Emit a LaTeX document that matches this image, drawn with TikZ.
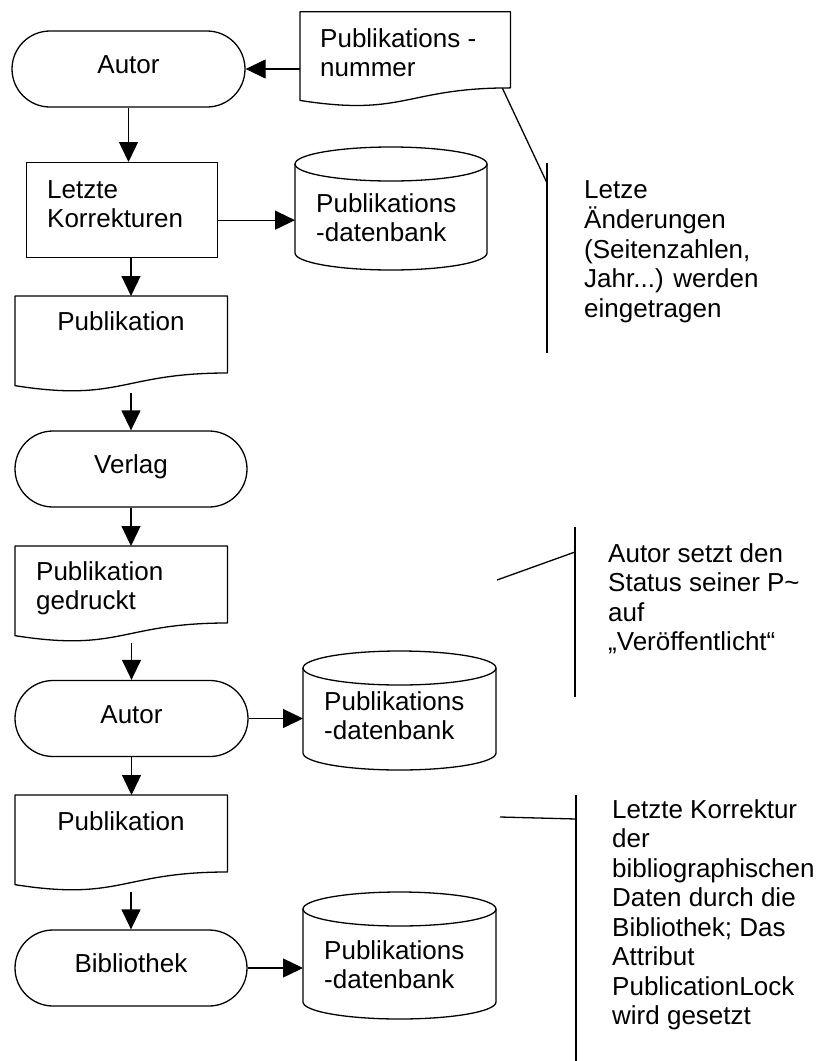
\documentclass[tikz,border=0pt]{standalone}
\usepackage{fontspec}
\setmainfont{Liberation Sans}
\usetikzlibrary{arrows.meta,shapes.misc,calc}

% left-aligned block of lines whose anchor is the first baseline
\newcommand\lns[1]{\begin{tabular}[t]{@{}l@{}}#1\end{tabular}}

\tikzset{
  every node/.style={font=\fontsize{26}{29.5}\selectfont},
  line/.style={line width=1.3pt, line join=round},
  flow/.style={line, -{Triangle[length=20pt,width=19pt]}},
  term/.style={rounded rectangle, draw, line width=1.3pt, minimum width=233pt,
    minimum height=76pt, inner sep=0pt, text height=20pt, text depth=11pt},
  proc/.style={rectangle, draw, line width=1.3pt, inner sep=0pt},
  body/.style={rectangle, inner sep=0pt, anchor=north west},
  txt/.style={inner sep=0pt, anchor=base west},
  ctxt/.style={inner sep=0pt, anchor=base},
}

% document symbol: name, left, top, width, height (y measured downwards)
\newcommand\docshape[5]{%
  \node[body, minimum width=#4pt, minimum height=#5pt] (#1) at (#2,-#3) {};
  \draw[line] (#1.north west) -- (#1.north east) -- ++(0,-0.802*#5)
    .. controls ($(#1.north)+(0,-0.802*#5)$) and ($(#1.north)+(0,-1.1075*#5)$)
    .. ($(#1.north west)+(0,-0.934*#5)$) -- cycle;
  \coordinate (#1-out) at ($(#1.north west)+(0,-#5-1)$);
}

% database cylinder: name, left, top, right, bottom
\newcommand\dbshape[5]{%
  \node[body, minimum width={(#4-#2)*1pt}, minimum height={(#5-#3)*1pt}] (#1) at (#2,-#3) {};
  \draw[line] (#2,-#3-17) -- (#2,-#5+17)
    arc[start angle=180, end angle=360, x radius={(#4-#2)/2}, y radius=17]
    -- (#4,-#3-17)
    arc[start angle=0, end angle=180, x radius={(#4-#2)/2}, y radius=17];
  \draw[line] (#2,-#3-17)
    arc[start angle=180, end angle=360, x radius={(#4-#2)/2}, y radius=17];
}

\begin{document}
\begin{tikzpicture}[x=1pt,y=1pt]
\useasboundingbox (0,0) rectangle (823,-1061);

% ---- main flow ----
\node[term] (autorA) at (128.5,-69) {Autor};

\docshape{num}{300}{11.7}{210}{95}
\node[txt] (numtxt) at (320,-47) {\lns{Publikations -\\nummer}};

\node[proc, minimum width=191pt, minimum height=95pt, anchor=north west] (kor) at (26,-162) {};
\node[txt] (kortxt) at (47,-198) {\lns{Letzte\\Korrekturen}};

\dbshape{dbA}{295}{147}{487}{270}
\node[txt] (dbAtxt) at (316,-212) {\lns{Publikations\\-datenbank}};

\docshape{pubA}{15}{296}{212}{96}
\node[ctxt] (pubAtxt) at (121,-330) {Publikation};

\node[term, minimum width=232pt] (verlag) at (131,-469) {Verlag};

\docshape{pubB}{15}{546}{212}{96}
\node[txt] (pubBtxt) at (36,-580) {\lns{Publikation\\gedruckt}};

\node[term] (autorB) at (131.5,-718.5) {Autor};

\dbshape{dbB}{303}{651}{496}{770}
\node[txt] (dbBtxt) at (324,-710) {\lns{Publikations\\-datenbank}};

\docshape{pubC}{15}{795}{212}{96}
\node[ctxt] (pubCtxt) at (121,-830) {Publikation};

\node[term, minimum width=232pt] (bib) at (131,-968) {Bibliothek};

\dbshape{dbC}{303}{892}{496}{1019}
\node[txt] (dbCtxt) at (324,-959) {\lns{Publikations\\-datenbank}};

% ---- connectors ----
\draw[flow] (autorA.east -| num.west) -- (autorA.east);
\draw[flow] (autorA.south) -- (autorA.south |- kor.north);
\coordinate (korOut) at ($(kor.east)+(0,-10)$);
\draw[flow] (korOut) -- (korOut -| dbA.west);
\draw[flow] (verlag.north |- kor.south) -- (verlag.north |- pubA.north);
\draw[flow] (verlag.north |- pubA-out) -- (verlag.north);
\draw[flow] (verlag.south) -- (verlag.south |- pubB.north);
\draw[flow] (autorB.north |- pubB-out) -- (autorB.north);
\draw[flow] (autorB.east) -- (autorB.east -| dbB.west);
\draw[flow] (autorB.south) -- (autorB.south |- pubC.north);
\draw[flow] (bib.north |- pubC-out) -- (bib.north);
\draw[flow] (bib.east) -- (bib.east -| dbC.west);

% ---- annotations ----
\coordinate (noteAtop) at (547,-163);
\coordinate (noteAbot) at (547,-353);
\coordinate (noteAknee) at (547,-183);
\coordinate (noteAfoot) at ($(num.north east)+(-8,-76.5)$);
\draw[line] (noteAtop) -- (noteAbot);
\draw[line] (noteAfoot) -- (noteAknee);
\node[txt] (noteAtxt) at (584,-198)
  {\lns{Letze\\Änderungen\\(Seitenzahlen,\\Jahr...) werden\\eingetragen}};

\coordinate (noteBtop) at (575,-527);
\coordinate (noteBbot) at (575,-697);
\coordinate (noteBknee) at (575,-552);
\coordinate (noteBfoot) at (497,-580);
\draw[line] (noteBtop) -- (noteBbot);
\draw[line] (noteBfoot) -- (noteBknee);
\node[txt] (noteBtxt) at (608,-562)
  {\lns{Autor setzt den\\Status seiner P\textasciitilde\\auf\\„Veröffentlicht“}};

\coordinate (noteCtop) at (576,-795);
\coordinate (noteCbot) at (576,-1061);
\coordinate (noteCknee) at (576,-819);
\coordinate (noteCfoot) at (500,-817);
\draw[line] (noteCtop) -- (noteCbot);
\draw[line] (noteCfoot) -- (noteCknee);
\node[txt] (noteCtxt) at (612,-818)
  {\lns{Letzte Korrektur\\der\\bibliographischen\\Daten durch die\\Bibliothek; Das\\Attribut\\PublicationLock\\wird gesetzt}};
\end{tikzpicture}
\end{document}
